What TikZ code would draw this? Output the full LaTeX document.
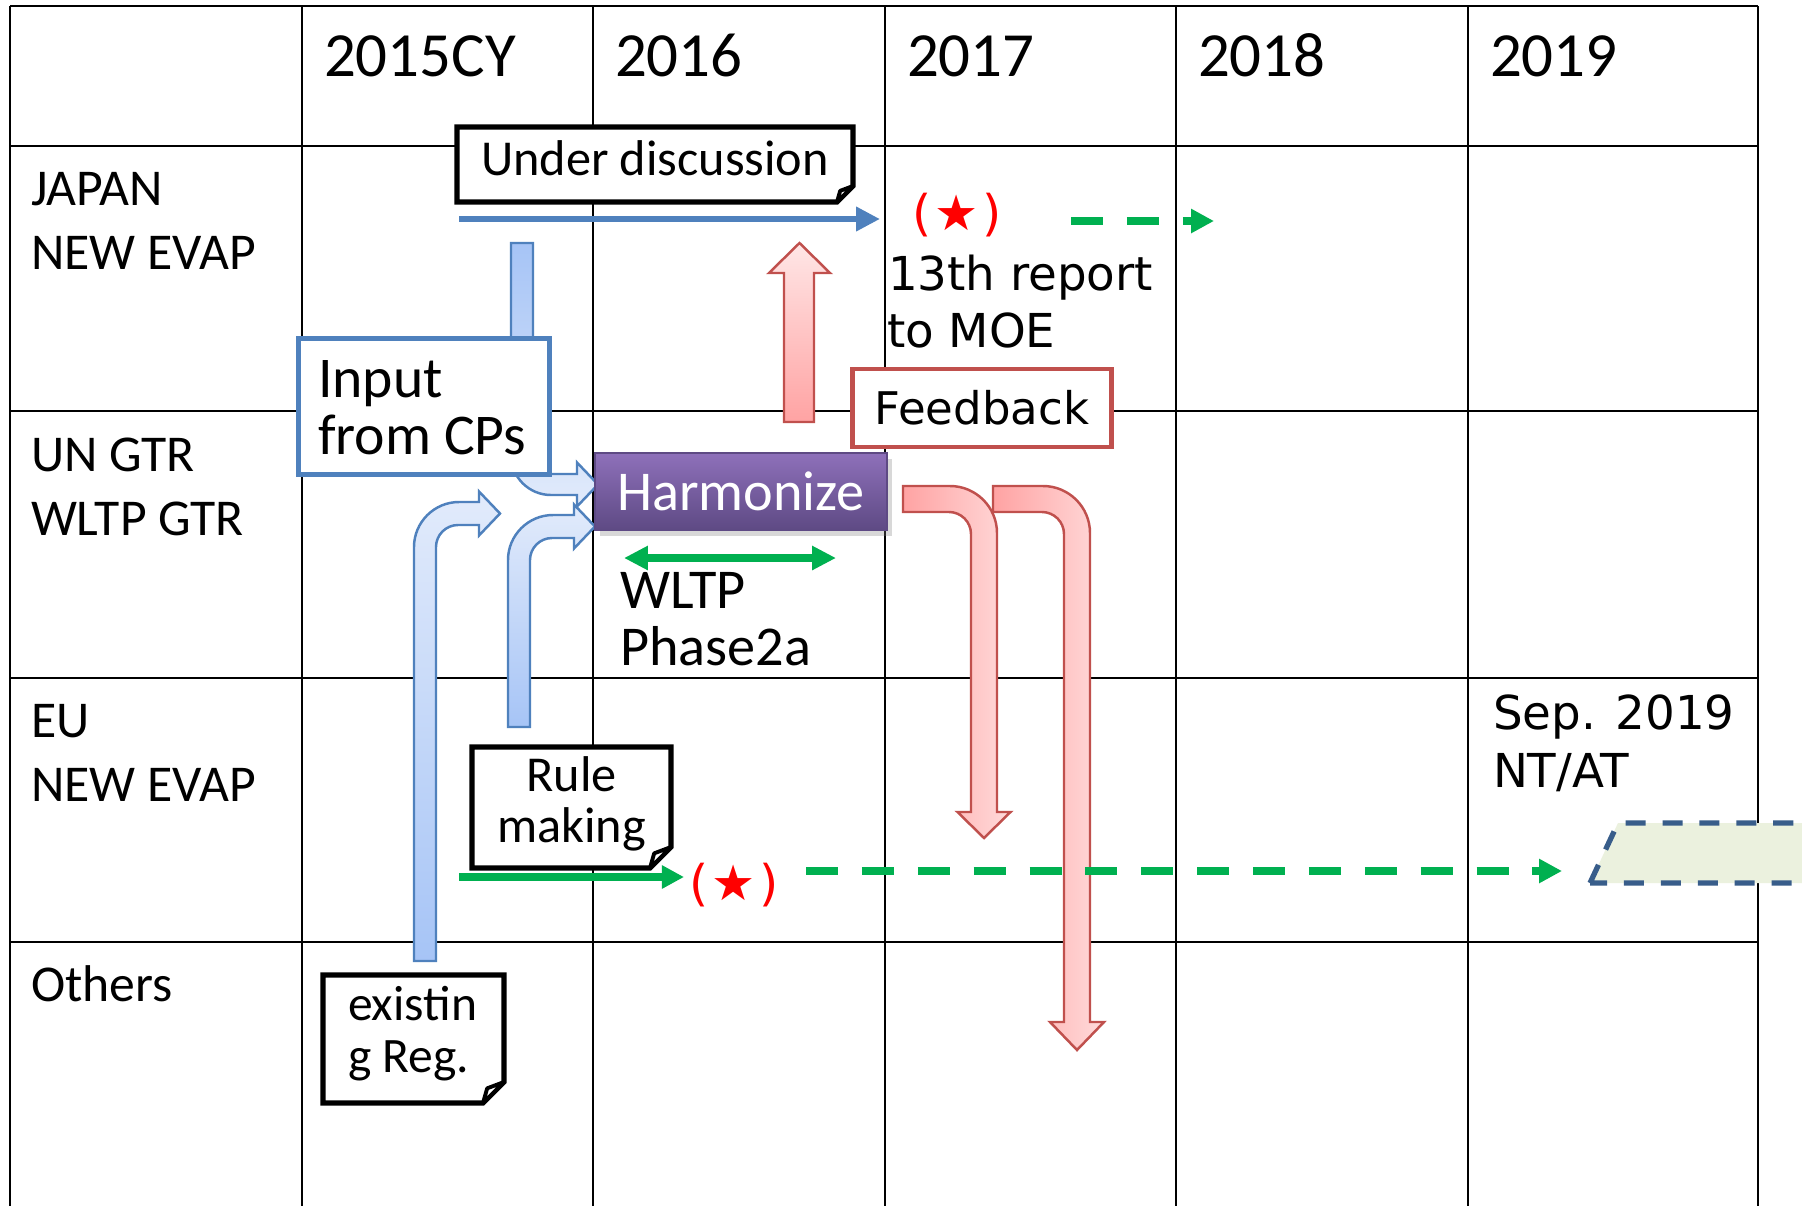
\documentclass[tikz,border=0pt]{standalone}
\usepackage{fontspec}
\setmainfont{Carlito}
\newfontfamily\verdfont{DejaVu Sans}
\usetikzlibrary{arrows.meta,shadows}

\definecolor{accblue}{HTML}{4F81BD}
\definecolor{accred}{HTML}{C0504D}
\definecolor{grn}{HTML}{00B050}
\definecolor{lbTop}{HTML}{E2EBFB}
\definecolor{lbBot}{HTML}{A6C4F6}
\definecolor{pkDark}{HTML}{FFA3A3}
\definecolor{pkLight}{HTML}{FFDADA}
\definecolor{pkTop}{HTML}{FFE6E6}
\definecolor{purTop}{HTML}{8E70BA}
\definecolor{purBot}{HTML}{5E4A84}
\definecolor{paraFill}{HTML}{EBF1DE}
\definecolor{paraLine}{HTML}{385D8A}
\definecolor{starred}{HTML}{FF0000}

\newcommand{\myfoldbox}[5]{%
  \draw[note] (#1,#2) -- (#3,#2) -- (#3,#4-#5) -- (#3-#5,#4) -- (#1,#4) -- cycle;
  \draw[note, line width=1.1pt, line join=round] (#3,#4-#5) -- (#3-0.8*#5,#4-0.7*#5) -- (#3-#5,#4) -- cycle;
}

\tikzset{
  gline/.style={line width=0.8pt, black},
  txt/.style={inner sep=0pt, outer sep=0pt},
  hdr/.style={txt, anchor=base west, font=\fontsize{17.9}{21}\selectfont},
  rowlab/.style={txt, anchor=base west, font=\fontsize{14.7}{18}\selectfont},
  vtxt/.style={txt, anchor=base west, font=\verdfont\fontsize{13.3}{16}\selectfont},
  note/.style={draw=black, line width=1.5pt, fill=white, line join=miter},
  blockblue/.style={draw=accblue, line width=0.7pt, top color=lbTop, bottom color=lbBot},
  blockblueinv/.style={draw=accblue, line width=0.7pt, top color=lbBot, bottom color=lbTop},
  blockred/.style={draw=accred, line width=0.7pt, left color=pkDark, right color=pkLight},
  blockredv/.style={draw=accred, line width=0.7pt, top color=pkTop, bottom color=pkDark},
  bluearr/.style={draw=accblue, line width=1.9pt, -{Triangle[length=6.8pt,width=6.6pt]}},
  grnarr/.style={draw=grn, line width=2pt, -{Triangle[length=6.5pt,width=6.5pt]}},
  grndash/.style={grnarr, dash pattern=on 9.1pt off 6.8pt},
  redstar/.style={txt, text=starred, font=\verdfont\fontsize{14}{16}\selectfont},
}

\begin{document}
\begin{tikzpicture}[x=0.1mm,y=-0.1mm]
\useasboundingbox (0,0) rectangle (1802,1205);
\fill[white] (0,0) rectangle (1802,1205);
\begin{scope}
\clip (0,0) rectangle (1802,1205);

% grid
\foreach \gx in {10,302,593,885,1176,1468,1758} \draw[gline] (\gx,6) -- (\gx,1215);
\foreach \gy in {6,146,411,678,942} \draw[gline] (10,\gy) -- (1758,\gy);

% headers
\node[hdr] (h15) at (324,76) {2015CY};
\node[hdr] (h16) at (615,76) {2016};
\node[hdr] (h17) at (907,76) {2017};
\node[hdr] (h18) at (1198,76) {2018};
\node[hdr] (h19) at (1490,76) {2019};

% row labels
\node[rowlab] (r1a) at (31,205) {JAPAN};
\node[rowlab] (r1b) at (31,269) {NEW EVAP};
\node[rowlab] (r2a) at (31,471) {UN GTR};
\node[rowlab] (r2b) at (31,535) {WLTP GTR};
\node[rowlab] (r3a) at (31,737) {EU};
\node[rowlab] (r3b) at (31,801) {NEW EVAP};
\node[rowlab] (r4a) at (31,1001) {Others};

% Under discussion
\myfoldbox{457}{127}{853}{202}{16}
\node[txt, anchor=base, font=\fontsize{14.3}{17}\selectfont] (und) at (655,175) {Under discussion};

% Japan blue arrow
\coordinate (jS) at (459,219);
\coordinate (jE) at (880,219);
\draw[bluearr] (jS) -- (jE);

% red star Japan
\node[redstar] (st1) at (957,215) {(\kern1pt★\kern1pt)};

% green dashed Japan
\coordinate (jG1) at (1071,221);
\coordinate (jG2) at (1214,221);
\draw[grndash] (jG1) -- (jG2);

% 13th report
\node[vtxt] (rep1) at (888,290) {13th report};
\node[vtxt] (rep2) at (887,347) {to MOE};

% red up arrow
\draw[blockredv] (784,422) -- (784,273) -- (769,273) -- (799.5,243) -- (830,273) -- (814,273) -- (814,422) -- cycle;

% Feedback box
\node[draw=accred, line width=1.2pt, fill=white, minimum width=25.9mm, minimum height=7.8mm, inner sep=0pt,
      font=\verdfont\fontsize{12.8}{15}\selectfont] (fb) at (982,408) {Feedback};

% blue bent arrows
\draw[blockblue] (436,961) -- (414,961) -- (414,547) .. controls (414,522.2) and (434.2,502) .. (459,502) -- (479,502) -- (479,491.5) -- (500,513.5) -- (479,535.5) -- (479,525) -- (458,525) .. controls (445.9,525) and (436,534.9) .. (436,547) -- cycle;
\draw[blockblue] (530,727) -- (508,727) -- (508,560) .. controls (508,535.2) and (528.2,515) .. (553,515) -- (574,515) -- (574,504.5) -- (595,526.5) -- (574,548.5) -- (574,538) -- (552,538) .. controls (539.9,538) and (530,547.9) .. (530,560) -- cycle;
\draw[blockblueinv] (511,243) -- (533,243) -- (533,457) .. controls (533,466.4) and (540.6,474) .. (550,474) -- (577,474) -- (577,462.5) -- (598,484.5) -- (577,506.5) -- (577,495) -- (551,495) .. controls (528.9,495) and (511,477.1) .. (511,455) -- cycle;

% Input box
\node[draw=accblue, line width=1.2pt, fill=white, minimum width=25.1mm, minimum height=13.6mm, inner sep=0pt] (inp) at (424,406.5) {};
\node[txt, anchor=base west, font=\fontsize{16.4}{19}\selectfont] (inp1) at (318,397) {Input};
\node[txt, anchor=base west, font=\fontsize{16.4}{19}\selectfont] (inp2) at (318,454) {from CPs};

% Harmonize
\node[top color=purTop, bottom color=purBot, draw=purBot, line width=0.4pt,
      drop shadow={shadow xshift=0.5mm, shadow yshift=-0.6mm, opacity=0.3},
      minimum width=29.2mm, minimum height=7.7mm, inner sep=0pt, text=white,
      font=\fontsize{16}{19}\selectfont] (harm) at (741,491.5) {Harmonize};

% WLTP double arrow and text
\coordinate (w1) at (624,558);
\coordinate (w2) at (836,558);
\draw[draw=grn, line width=2pt, {Triangle[length=6.8pt,width=6.5pt]}-{Triangle[length=6.8pt,width=6.5pt]}] (w1) -- (w2);
\node[txt, anchor=base west, font=\fontsize{16}{19}\selectfont] (wl1) at (620,608) {WLTP};
\node[txt, anchor=base west, font=\fontsize{16}{19}\selectfont] (wl2) at (620,665) {Phase2a};

% red bent arrows
\draw[blockred] (903,486) -- (950,486) .. controls (975.9,486) and (997,507.1) .. (997,533) -- (997,812) -- (1010.5,812) -- (984,838) -- (957.5,812) -- (971,812) -- (971,534) .. controls (971,521.9) and (961.1,512) .. (949,512) -- (903,512) -- cycle;
\draw[blockred] (993,486) -- (1043,486) .. controls (1068.9,486) and (1090,507.1) .. (1090,533) -- (1090,1022) -- (1104,1022) -- (1077,1050) -- (1050,1022) -- (1064,1022) -- (1064,534) .. controls (1064,521.9) and (1054.1,512) .. (1042,512) -- (993,512) -- cycle;

% Rule making
\myfoldbox{472}{747}{671}{868}{21}
\node[txt, anchor=base, font=\fontsize{14.3}{17}\selectfont] (rm1) at (571.5,791) {Rule};
\node[txt, anchor=base, font=\fontsize{14.3}{17}\selectfont] (rm2) at (571.5,842) {making};

% EU arrows
\coordinate (e1) at (459,877);
\coordinate (e2) at (684,877);
\draw[grnarr, -{Triangle[length=6.3pt,width=6.3pt]}] (e1) -- (e2);
\node[redstar] (st2) at (734,885) {(\kern1pt★\kern1pt)};
\coordinate (e3) at (806,871);
\coordinate (e4) at (1562,871);
\draw[grndash] (e3) -- (e4);

% Sep 2019
\node[vtxt] (sep1) at (1493,729) {Sep. 2019};
\node[vtxt] (sep2) at (1493,787) {NT/AT};

% parallelogram
\draw[draw=paraLine, line width=1.5pt, dash pattern=on 5.7pt off 4.8pt, fill=paraFill] (1590,883) -- (1618,823) -- (1900,823) -- (1900,883) -- cycle;

% existing Reg.
\myfoldbox{323}{975}{504}{1103}{21}
\node[txt, anchor=base west, font=\fontsize{14.1}{17}\selectfont] (ex1) at (348,1020) {existin};
\node[txt, anchor=base west, font=\fontsize{14.1}{17}\selectfont] (ex2) at (348,1072) {g Reg.};

\end{scope}
\end{tikzpicture}
\end{document}
